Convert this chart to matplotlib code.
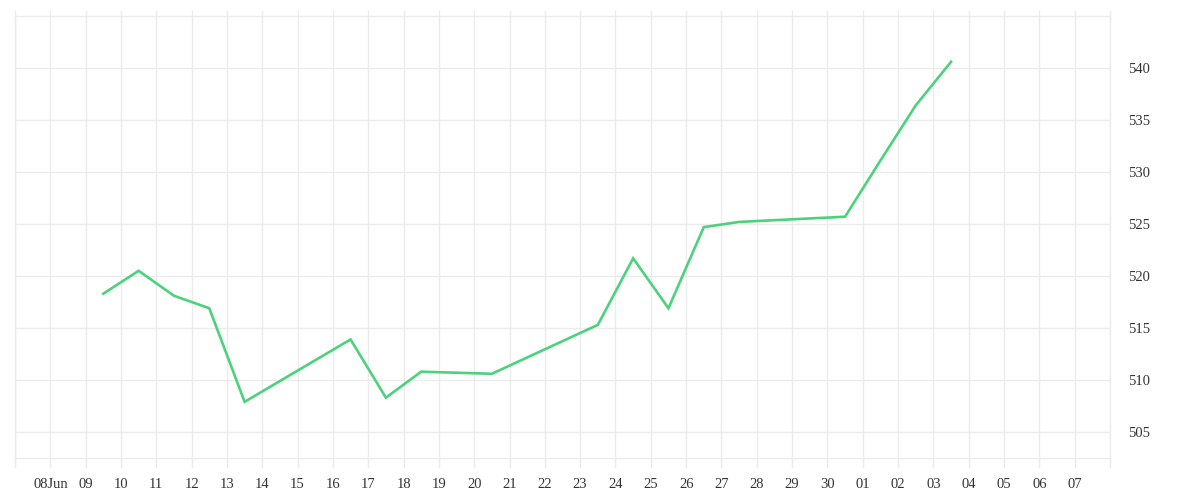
import numpy as np
import matplotlib
matplotlib.use('Agg')
import matplotlib.pyplot as plt
import matplotlib.dates as mdates

# closing values, one per trading day (plotted at midday)
days = ['2023-06-09', '2023-06-10', '2023-06-11', '2023-06-12', '2023-06-13',
        '2023-06-16', '2023-06-17', '2023-06-18', '2023-06-20', '2023-06-23',
        '2023-06-24', '2023-06-25', '2023-06-26', '2023-06-27', '2023-06-30',
        '2023-07-01', '2023-07-02', '2023-07-03']
values = [518.3, 520.5, 518.1, 516.9, 507.9,
          513.9, 508.3, 510.8, 510.6, 515.3,
          521.7, 516.9, 524.7, 525.2, 525.7,
          531.1, 536.4, 540.6]
yticks = [505, 510, 515, 520, 525, 530, 535, 540]

grid_c = '#ececec'
text_c = '#333333'
plt.rcParams['font.family'] = ['Liberation Serif', 'DejaVu Serif']

x = np.array(days, dtype='datetime64[D]') + np.timedelta64(12, 'h')
tick_days = np.arange(np.datetime64('2023-06-07'), np.datetime64('2023-07-09'))
labels = []
for d in tick_days:
    s = str(d)
    if s in ('2023-06-07', '2023-07-08'):
        labels.append('')
    elif s == '2023-06-08':
        labels.append('08Jun')
    else:
        labels.append(s[-2:])

fig = plt.figure(figsize=(12, 5), dpi=100)
ax = fig.add_axes([15 / 1200, 42 / 500, 1095 / 1200, 442 / 500])
ax.plot(x.astype('datetime64[m]').astype(object), values, color='#4cd27c', lw=1.9,
        solid_joinstyle='miter')

ax.set_xlim(mdates.date2num(np.datetime64('2023-06-07')),
            mdates.date2num(np.datetime64('2023-07-08')))
ax.set_ylim(502.5, 545)
ax.set_xticks(mdates.date2num(tick_days))
ax.set_xticklabels(labels)
ax.set_yticks(yticks)
ax.set_yticklabels([str(v) for v in yticks])
ax.yaxis.tick_right()

ax.grid(True, color=grid_c, lw=1)
for s in ax.spines.values():
    s.set_color(grid_c)
    s.set_linewidth(1)
ax.tick_params(axis='x', length=7.2, color=grid_c, width=1,
               labelsize=10.5, pad=7, labelcolor=text_c)
ax.tick_params(axis='x', top=True)
ax.tick_params(axis='y', length=0, labelsize=10.5, pad=13, labelcolor=text_c)
for t in ax.xaxis.get_ticklines():
    t.set_color(grid_c)
for t in ax.xaxis.get_majorticklines()[1::2]:
    t.set_markersize(4)

fig.savefig('out.png', dpi=100, facecolor='white')
